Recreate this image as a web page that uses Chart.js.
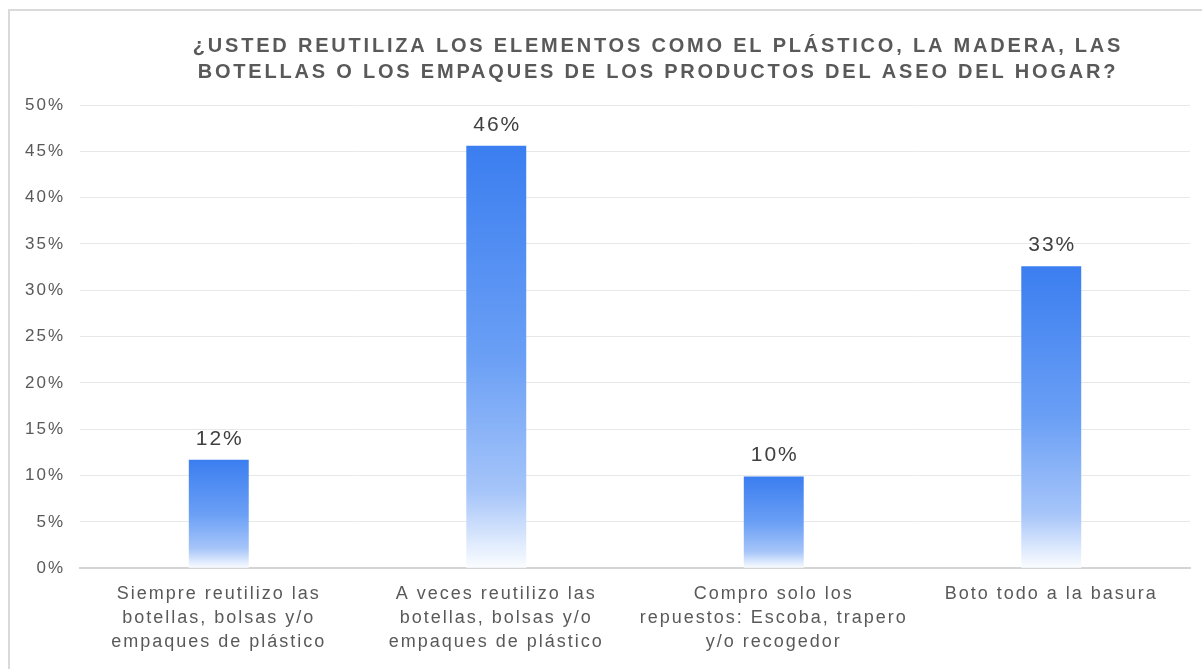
<!DOCTYPE html>
<html>
<head>
<meta charset="utf-8">
<script src="https://cdn.jsdelivr.net/npm/chart.js@4.4.1/dist/chart.umd.min.js"></script>
<style>
  html, body { margin: 0; padding: 0; background: #fff; }
  #wrap { position: relative; width: 1202px; height: 669px; overflow: hidden; }
  #frame {
    position: absolute; left: 8px; top: 9px; width: 1300px; height: 800px;
    border-top: 2px solid #dadada; border-left: 2px solid #dadada;
  }
  #chart { position: absolute; left: 0; top: 0; }
</style>
</head>
<body>
<div id="wrap">
  <div id="frame"></div>
  <canvas id="chart" width="1202" height="669"></canvas>
</div>
<script>
const titleLines = [
  '¿USTED REUTILIZA LOS ELEMENTOS COMO EL PLÁSTICO, LA MADERA, LAS',
  'BOTELLAS O LOS EMPAQUES DE LOS PRODUCTOS DEL ASEO DEL HOGAR?'
]

const categories = [
  ['Siempre reutilizo las', 'botellas, bolsas y/o', 'empaques de plástico'],
  ['A veces reutilizo las', 'botellas, bolsas y/o', 'empaques de plástico'],
  ['Compro solo los', 'repuestos: Escoba, trapero', 'y/o recogedor'],
  ['Boto todo a la basura']
]

// percent of answers per option
const shares = [11.7, 45.6, 9.9, 32.6]

const yTicks = [0, 5, 10, 15, 20, 25, 30, 35, 40, 45, 50]

const textGray = '#595959'
const fontFamily = '"Liberation Sans", Arial, sans-serif'

// axis text is drawn a little spread out
const spacingPlugin = {
  id: 'spacing',
  beforeUpdate(chart) { chart.ctx.letterSpacing = '2px' },
  beforeDraw(chart) { chart.ctx.letterSpacing = '2px' }
}

const titlePlugin = {
  id: 'twoLineTitle',
  afterDraw(chart) {
    const ctx = chart.ctx
    ctx.save()
    ctx.font = 'bold 20px ' + fontFamily
    ctx.letterSpacing = '2.8px'
    ctx.fillStyle = textGray
    ctx.textAlign = 'center'
    ctx.textBaseline = 'alphabetic'
    ctx.fillText(titleLines[0], 658, 52)
    ctx.fillText(titleLines[1], 658, 78)
    ctx.restore()
  }
}

const valueLabels = {
  id: 'valueLabels',
  afterDatasetsDraw(chart) {
    const ctx = chart.ctx
    const meta = chart.getDatasetMeta(0)
    ctx.save()
    ctx.font = '21px ' + fontFamily
    ctx.letterSpacing = '2px'
    ctx.fillStyle = '#404040'
    ctx.textAlign = 'center'
    ctx.textBaseline = 'middle'
    meta.data.forEach((bar, i) => {
      ctx.fillText(Math.round(shares[i]) + '%', bar.x + 1, bar.y - 21)
    })
    ctx.restore()
  }
}

function barGradient(context) {
  const chart = context.chart
  if (!chart.chartArea || context.type !== 'data') return '#4285f4'
  const y = chart.scales.y
  const top = y.getPixelForValue(context.raw)
  const base = y.getPixelForValue(0)
  const g = chart.ctx.createLinearGradient(0, top, 0, base)
  g.addColorStop(0, '#3b7ef0')
  g.addColorStop(0.5, '#6a9ff5')
  g.addColorStop(0.82, '#a6c5f9')
  g.addColorStop(1, '#fbfdff')
  return g
}

const ctx = document.getElementById('chart').getContext('2d')
new Chart(ctx, {
  type: 'bar',
  data: {
    labels: categories,
    datasets: [{
      data: shares,
      backgroundColor: barGradient,
      borderWidth: 0,
      barPercentage: 0.216,
      categoryPercentage: 1
    }]
  },
  options: {
    responsive: false,
    animation: false,
    devicePixelRatio: 1,
    layout: { padding: { top: 105, left: 10, right: 12, bottom: 1 } },
    plugins: {
      legend: { display: false },
      title: { display: false },
      tooltip: { enabled: false }
    },
    scales: {
      x: {
        grid: { display: false, drawTicks: false },
        border: { display: true, color: '#d4d4d4', width: 2 },
        ticks: {
          color: textGray,
          padding: 14,
          maxRotation: 0,
          autoSkip: false,
          font: { family: fontFamily, size: 18, lineHeight: 1.33 }
        }
      },
      y: {
        min: 0,
        max: 50,
        afterBuildTicks(axis) { axis.ticks = yTicks.map(v => ({ value: v })) },
        grid: { color: '#e8e8e8', lineWidth: 1, drawTicks: false },
        border: { display: false },
        ticks: {
          color: textGray,
          padding: 15,
          callback: v => v + '%',
          font: { family: fontFamily, size: 17 }
        }
      }
    }
  },
  plugins: [spacingPlugin, titlePlugin, valueLabels]
})
</script>
</body>
</html>
